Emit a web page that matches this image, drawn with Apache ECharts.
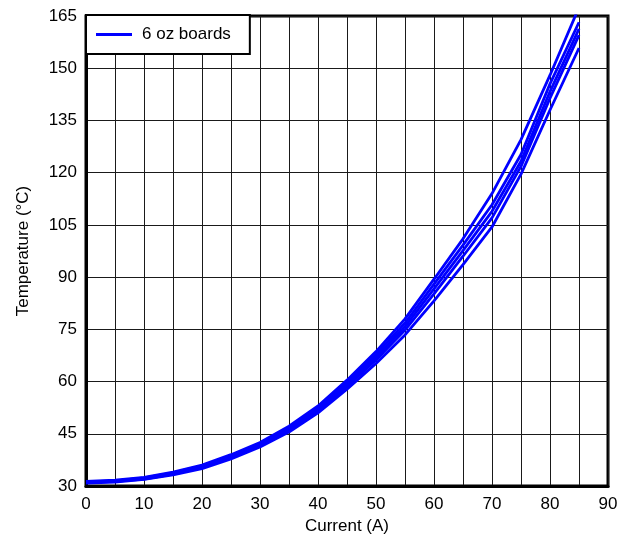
<!DOCTYPE html>
<html>
<head>
<meta charset="utf-8">
<script src="https://cdn.jsdelivr.net/npm/echarts@6/dist/echarts.min.js"></script>
<style>
html,body{margin:0;padding:0;background:#fff;}
#chart{width:626px;height:535px;}
</style>
</head>
<body>
<div id="chart"></div>
<script>
// Current (A)
const currents = [0, 5, 10, 15, 20, 25, 30, 35, 40, 45, 50, 55, 60, 65, 70, 75, 80, 85];
// Temperature (°C) for each board
const board1 = [31.3, 31.7, 32.5, 34.0, 36.0, 39.0, 42.5, 47.2, 53.0, 60.4, 68.6, 78.0, 89.4, 101.0, 114.0, 129.5, 148.0, 167.5];
const board2 = [31.2, 31.5, 32.3, 33.8, 35.8, 38.6, 42.2, 46.8, 52.4, 59.8, 67.8, 76.8, 88.0, 99.2, 110.8, 125.2, 145.5, 163.2];
const board3 = [31.1, 31.4, 32.2, 33.6, 35.5, 38.4, 41.9, 46.4, 52.0, 59.2, 67.0, 75.8, 86.6, 97.6, 108.9, 123.3, 143.3, 161.3];
const board4 = [31.0, 31.3, 32.0, 33.4, 35.3, 38.1, 41.6, 46.0, 51.5, 58.5, 66.2, 74.8, 85.2, 96.0, 107.0, 121.8, 141.4, 159.5];
const board5 = [30.8, 31.1, 31.9, 33.2, 35.0, 37.8, 41.2, 45.5, 51.0, 57.8, 65.2, 73.4, 83.2, 93.6, 104.4, 119.6, 138.0, 155.8];
const boards = [board1, board2, board3, board4, board5];
const seriesName = '6 oz boards';
const xTitle = 'Current (A)';
const yTitle = 'Temperature (°C)';

const font = '"Liberation Sans", Arial, sans-serif';
const chart = echarts.init(document.getElementById('chart'), null, {renderer: 'canvas'});
chart.setOption({
  animation: false,
  backgroundColor: '#fff',
  grid: {left: 86, right: 18, top: 16, bottom: 49, containLabel: false, outerBoundsMode: 'none', show: true, borderColor: '#000', borderWidth: 3, backgroundColor: 'transparent'},
  legend: {
    data: [{name: seriesName, icon: 'path://M0 0H36V3H0Z'}],
    left: 86, top: 15,
    orient: 'vertical',
    backgroundColor: '#fff',
    borderColor: '#000', borderWidth: 2, borderRadius: 0,
    padding: [11, 19, 11, 10],
    itemWidth: 36, itemHeight: 3,
    textStyle: {fontFamily: font, fontSize: 17, color: '#000', padding: [0, 0, 0, 5]}
  },
  xAxis: {
    type: 'value', min: 0, max: 90, interval: 10,
    name: xTitle, nameLocation: 'middle', nameGap: 28,
    nameTextStyle: {fontFamily: font, fontSize: 17, color: '#000'},
    axisLine: {show: true, onZero: false, lineStyle: {color: '#000', width: 3}},
    axisTick: {show: false},
    minorTick: {show: false, splitNumber: 2},
    axisLabel: {fontFamily: font, fontSize: 17, color: '#000', margin: 10},
    splitLine: {show: true, lineStyle: {color: '#1a1a1a', width: 1}},
    minorSplitLine: {show: true, lineStyle: {color: '#1a1a1a', width: 1}}
  },
  yAxis: {
    type: 'value', min: 30, max: 165, interval: 15,
    name: yTitle, nameLocation: 'middle', nameGap: 54,
    nameTextStyle: {fontFamily: font, fontSize: 17, color: '#000'},
    axisLine: {show: true, onZero: false, lineStyle: {color: '#000', width: 3}},
    axisTick: {show: false},
    axisLabel: {fontFamily: font, fontSize: 17, color: '#000', margin: 9},
    splitLine: {show: true, lineStyle: {color: '#1a1a1a', width: 1}}
  },
  series: boards.map(b => ({
    name: seriesName,
    type: 'line',
    symbol: 'none',
    clip: true,
    data: currents.map((c, i) => [c, b[i]]),
    lineStyle: {color: '#0000ff', width: 2.8},
    itemStyle: {color: '#0000ff'}
  }))
});
</script>
</body>
</html>
